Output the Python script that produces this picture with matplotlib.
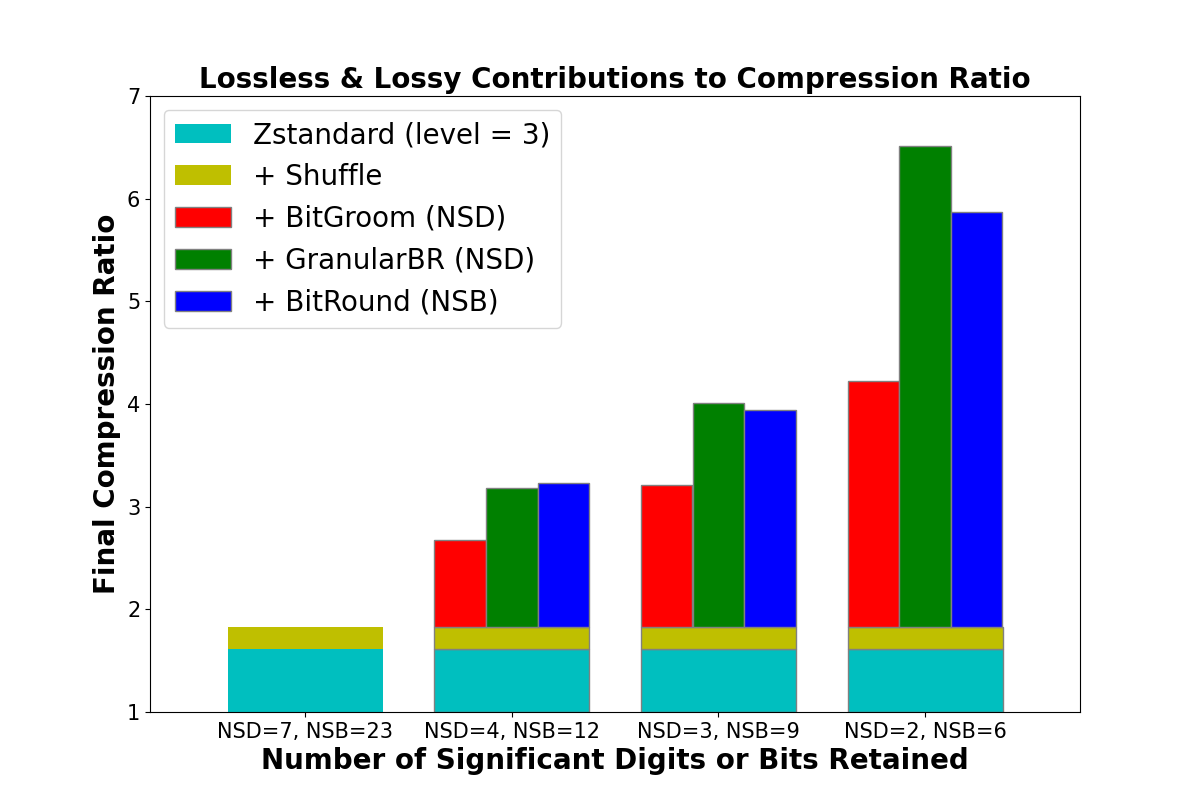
import matplotlib
matplotlib.use("Agg")
import matplotlib.pyplot as plt
import numpy as np

groups = ["NSD=7, NSB=23", "NSD=4, NSB=12", "NSD=3, NSB=9", "NSD=2, NSB=6"]
zstd = [1.614, 1.614, 1.614, 1.614]
shuffle = [1.828, 1.828, 1.828, 1.828]
bitgroom = [2.675, 3.21, 4.22]
granularbr = [3.18, 4.01, 6.51]
bitround = [3.23, 3.94, 5.87]

fig, ax = plt.subplots(figsize=(12, 8), dpi=100)
x = np.arange(len(groups))
w = 0.25
base = 1.0

# first group: no edges
ax.bar(x[0], zstd[0] - base, width=3 * w, bottom=base, color="c", label="Zstandard (level = 3)")
ax.bar(x[0], shuffle[0] - zstd[0], width=3 * w, bottom=zstd[0], color="y", label="+ Shuffle")
# remaining groups with grey edges
xs = x[1:]
ax.bar(xs, np.array(zstd[1:]) - base, width=3 * w, bottom=base, color="c", edgecolor="grey")
ax.bar(xs, np.array(shuffle[1:]) - np.array(zstd[1:]), width=3 * w, bottom=zstd[1:], color="y", edgecolor="grey")
sb = np.array(shuffle[1:])
ax.bar(xs - w, np.array(bitgroom) - sb, width=w, bottom=sb, color="r", edgecolor="grey", label="+ BitGroom (NSD)")
ax.bar(xs, np.array(granularbr) - sb, width=w, bottom=sb, color="g", edgecolor="grey", label="+ GranularBR (NSD)")
ax.bar(xs + w, np.array(bitround) - sb, width=w, bottom=sb, color="b", edgecolor="grey", label="+ BitRound (NSB)")

ax.set_xlim(-0.75, 3.75)
ax.set_ylim(1, 7)
ax.set_xticks(x)
ax.set_xticklabels(groups, fontsize=15)
ax.tick_params(axis="y", labelsize=15)
ax.set_xlabel("Number of Significant Digits or Bits Retained", fontsize=20, fontweight="bold")
ax.set_ylabel("Final Compression Ratio", fontsize=20, fontweight="bold")
ax.set_title("Lossless & Lossy Contributions to Compression Ratio", fontsize=20, fontweight="bold")
ax.legend(loc="upper left", fontsize=20)

fig.savefig("out.png")
